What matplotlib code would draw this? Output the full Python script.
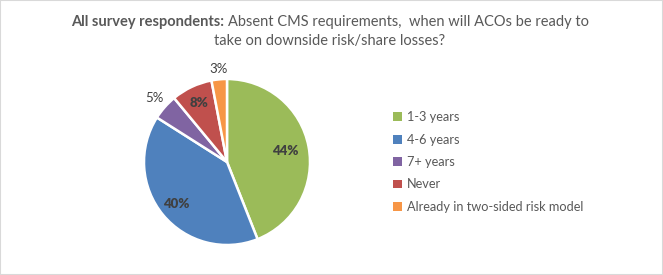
import numpy as np
import matplotlib.pyplot as plt
from matplotlib.patches import Patch, Rectangle

plt.rcParams['font.family'] = ['Lato', 'DejaVu Sans']

# datos del gráfico
categorias = ["1-3 years", "4-6 years", "7+ years", "Never", "Already in two-sided risk model"]
valores = [44, 40, 5, 8, 3]
colores = ["#9BBB59", "#4F81BD", "#8064A2", "#C0504D", "#F79646"]
etiquetas = ["44%", "40%", "5%", "8%", "3%"]
negrita = [True, True, False, True, False]
distancia = [0.72, 0.80, 1.16, 0.78, 1.13]

W, H = 663, 275
fig = plt.figure(figsize=(W / 100, H / 100), dpi=100)

# borde gris del gráfico
fig.patches.append(Rectangle((0, 0), 1, 1, transform=fig.transFigure, fill=False,
                             edgecolor="#D9D9D9", linewidth=1.5))

# ejes del pastel: centro (227,162) px, radio ~83 px
R = 83
lim = 1.25
cx, cy = 227, H - 162
ax = fig.add_axes([(cx - R * lim) / W, (cy - R * lim) / H, 2 * R * lim / W, 2 * R * lim / H])
wedges, _ = ax.pie(valores, colors=colores, startangle=90, counterclock=False,
                   wedgeprops=dict(edgecolor="white", linewidth=1.8))
ax.set_xlim(-lim, lim)
ax.set_ylim(-lim, lim)
ax.set_aspect("equal")
ax.axis("off")

# etiquetas de porcentaje
for w, txt, b, d in zip(wedges, etiquetas, negrita, distancia):
    ang = np.deg2rad((w.theta1 + w.theta2) / 2)
    ax.text(d * np.cos(ang), d * np.sin(ang), txt, ha="center", va="center",
            fontsize=9.5, color="#404040", fontweight="heavy" if b else "normal")

# título con parte en negrita
t1 = fig.text(0, 1 - 22 / H, "All survey respondents: ", fontsize=10.5, fontweight="bold",
              color="#595959", va="center", ha="left")
t2 = fig.text(0, 1 - 22 / H, "Absent CMS requirements,  when will ACOs be ready to",
              fontsize=10.5, color="#595959", va="center", ha="left")
fig.canvas.draw()
r = fig.canvas.get_renderer()
w1 = t1.get_window_extent(r).width
w2 = t2.get_window_extent(r).width
x0 = 330 - (w1 + w2) / 2
t1.set_x(x0 / W)
t2.set_x((x0 + w1) / W)
fig.text(330 / W, 1 - 41 / H, "take on downside risk/share losses?", fontsize=10.5,
         color="#595959", va="center", ha="center")

# leyenda
handles = [Patch(facecolor=c) for c in colores]
fig.legend(handles, categorias, loc="center left", bbox_to_anchor=(388 / W, (H - 162) / H),
           frameon=False, fontsize=9.2, labelcolor="#595959", handlelength=0.7,
           handleheight=0.7, handletextpad=0.4, labelspacing=0.82, borderaxespad=0)

fig.savefig("out.png", dpi=100)
